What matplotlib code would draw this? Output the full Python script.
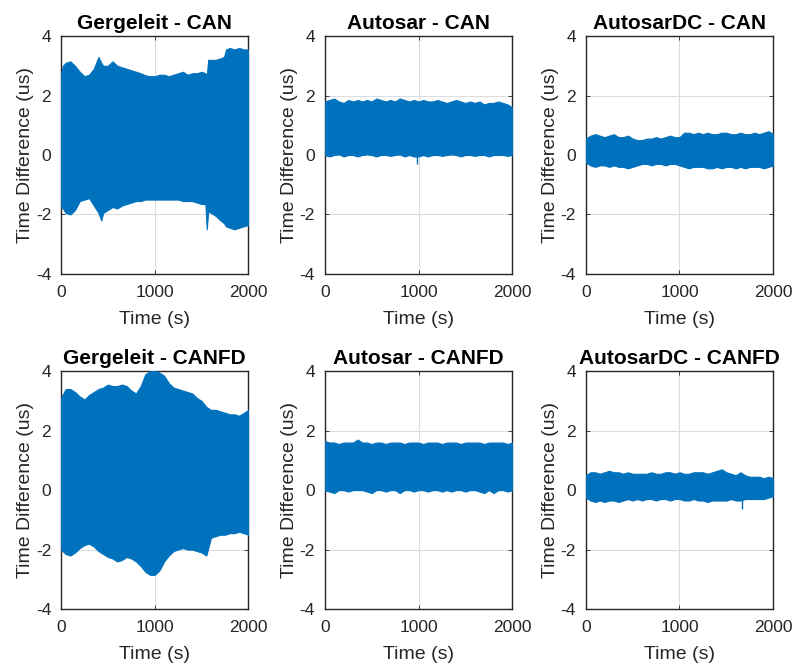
import numpy as np
import matplotlib.pyplot as plt

plt.rcParams['font.family'] = ['Liberation Sans', 'DejaVu Sans']
plt.rcParams['axes.unicode_minus'] = False

# envelope of each trace (time in s, value in us)
t50 = list(range(0, 2001, 50))

ger_can_t = [0, 20, 50, 100, 150, 200, 250, 300, 350, 400, 430, 450, 500, 550, 600, 650, 700, 750,
             800, 850, 900, 950, 1000, 1050, 1100, 1150, 1200, 1250, 1300, 1350, 1400, 1450, 1500,
             1540, 1555, 1570, 1600, 1650, 1700, 1740, 1760, 1800, 1850, 1900, 1950, 2000]
ger_can_hi = [2.7, 3.0, 3.1, 3.15, 3.0, 2.8, 2.65, 2.7, 2.9, 3.3, 3.1, 3.0, 3.0, 3.15, 3.0, 2.95, 2.9, 2.85,
              2.8, 2.75, 2.68, 2.65, 2.65, 2.7, 2.7, 2.65, 2.7, 2.75, 2.8, 2.7, 2.75, 2.75, 2.8,
              2.75, 2.65, 3.2, 3.2, 3.2, 3.25, 3.3, 3.55, 3.6, 3.55, 3.6, 3.55, 3.55]
ger_can_lo = [-1.7, -1.8, -1.95, -2.0, -1.85, -1.55, -1.5, -1.45, -1.7, -1.95, -2.2, -1.95, -1.85, -1.75, -1.8, -1.7, -1.65, -1.6,
              -1.55, -1.55, -1.5, -1.5, -1.5, -1.5, -1.5, -1.5, -1.5, -1.5, -1.55, -1.55, -1.55, -1.6, -1.65,
              -1.65, -2.5, -1.9, -1.95, -2.05, -2.2, -2.3, -2.4, -2.45, -2.5, -2.45, -2.4, -2.35]

ger_fd_hi = [3.1, 3.4, 3.4, 3.3, 3.15, 3.05, 3.2, 3.3, 3.4, 3.45, 3.55, 3.5, 3.5, 3.55, 3.5, 3.35, 3.25, 3.5, 3.9, 4.0, 4.05,
             3.95, 3.85, 3.6, 3.45, 3.4, 3.35, 3.3, 3.25, 3.1, 3.0, 2.8, 2.7, 2.7, 2.65, 2.6, 2.55, 2.55, 2.5, 2.6, 2.7]
ger_fd_lo = [-2.0, -2.15, -2.2, -2.1, -1.95, -1.85, -1.8, -1.9, -2.05, -2.15, -2.25, -2.3, -2.4, -2.35, -2.25, -2.3, -2.4, -2.55, -2.75, -2.85, -2.85,
             -2.7, -2.4, -2.2, -2.05, -2.0, -1.95, -2.0, -2.0, -2.05, -2.1, -2.2, -1.6, -1.55, -1.5, -1.5, -1.45, -1.45, -1.4, -1.45, -1.5]

aut_can_hi = [1.8, 1.85, 1.9, 1.8, 1.75, 1.85, 1.8, 1.85, 1.8, 1.85, 1.8, 1.9, 1.85, 1.8, 1.85, 1.8, 1.9, 1.85, 1.8, 1.85, 1.8,
              1.85, 1.8, 1.8, 1.85, 1.8, 1.75, 1.8, 1.85, 1.8, 1.75, 1.8, 1.75, 1.8, 1.7, 1.75, 1.75, 1.8, 1.75, 1.7, 1.6]
aut_can_lo = [0.0, -0.05, 0.0, 0.02, -0.05, 0.0, 0.0, -0.05, 0.0, 0.02, 0.0, -0.05, 0.0, 0.0, -0.03, 0.0, 0.02, -0.05, 0.0, -0.05, -0.05,
              0.0, -0.05, 0.0, 0.0, -0.03, 0.0, 0.02, 0.0, -0.05, 0.0, 0.0, -0.03, 0.0, 0.0, -0.05, 0.0, 0.0, 0.0, -0.03, 0.0]
aut_can_spike = ([985], [-0.3])

dc_can_hi = [0.55, 0.65, 0.7, 0.65, 0.6, 0.65, 0.7, 0.6, 0.6, 0.65, 0.55, 0.5, 0.5, 0.55, 0.55, 0.6, 0.55, 0.6, 0.65, 0.6, 0.6,
             0.75, 0.75, 0.7, 0.75, 0.7, 0.75, 0.7, 0.7, 0.75, 0.75, 0.7, 0.7, 0.75, 0.7, 0.7, 0.75, 0.7, 0.75, 0.8, 0.7]
dc_can_lo = [-0.25, -0.35, -0.4, -0.35, -0.35, -0.4, -0.35, -0.4, -0.4, -0.45, -0.4, -0.35, -0.3, -0.3, -0.35, -0.3, -0.3, -0.35, -0.3, -0.3, -0.35,
             -0.4, -0.45, -0.4, -0.4, -0.4, -0.45, -0.45, -0.4, -0.45, -0.4, -0.4, -0.45, -0.4, -0.45, -0.4, -0.4, -0.4, -0.45, -0.4, -0.35]

aut_fd_hi = [1.65, 1.6, 1.6, 1.55, 1.6, 1.6, 1.6, 1.7, 1.6, 1.6, 1.55, 1.6, 1.6, 1.55, 1.6, 1.6, 1.6, 1.55, 1.6, 1.6, 1.6,
             1.55, 1.6, 1.6, 1.6, 1.55, 1.6, 1.6, 1.6, 1.55, 1.6, 1.6, 1.6, 1.6, 1.55, 1.6, 1.6, 1.6, 1.6, 1.55, 1.6]
aut_fd_lo = [0.0, -0.05, -0.1, 0.0, 0.0, -0.05, 0.0, 0.0, 0.0, -0.05, -0.1, 0.0, 0.0, -0.05, 0.0, 0.0, -0.1, 0.0, 0.0, -0.05, 0.0,
             0.0, -0.05, 0.0, 0.0, -0.05, 0.0, -0.05, 0.0, 0.0, -0.05, 0.0, 0.0, -0.05, -0.1, 0.0, -0.1, 0.0, 0.0, -0.05, 0.0]

dc_fd_hi = [0.5, 0.6, 0.6, 0.55, 0.6, 0.65, 0.6, 0.6, 0.55, 0.6, 0.55, 0.55, 0.55, 0.55, 0.6, 0.55, 0.55, 0.6, 0.6, 0.55, 0.6,
            0.55, 0.55, 0.6, 0.6, 0.6, 0.55, 0.6, 0.65, 0.7, 0.6, 0.55, 0.5, 0.6, 0.5, 0.45, 0.45, 0.45, 0.4, 0.45, 0.4]
dc_fd_lo = [-0.25, -0.35, -0.4, -0.35, -0.4, -0.35, -0.35, -0.4, -0.35, -0.3, -0.35, -0.3, -0.35, -0.3, -0.3, -0.35, -0.3, -0.3, -0.35, -0.3, -0.3,
            -0.35, -0.35, -0.3, -0.35, -0.35, -0.4, -0.35, -0.35, -0.35, -0.35, -0.3, -0.35, -0.35, -0.3, -0.3, -0.3, -0.3, -0.3, -0.25, -0.2]
dc_fd_spike = ([1665], [-0.65])

titles = ['Gergeleit - CAN', 'Autosar - CAN', 'AutosarDC - CAN',
          'Gergeleit - CANFD', 'Autosar - CANFD', 'AutosarDC - CANFD']
panels = [(ger_can_t, ger_can_hi, ger_can_lo, None),
          (t50, aut_can_hi, aut_can_lo, aut_can_spike),
          (t50, dc_can_hi, dc_can_lo, None),
          (t50, ger_fd_hi, ger_fd_lo, None),
          (t50, aut_fd_hi, aut_fd_lo, None),
          (t50, dc_fd_hi, dc_fd_lo, dc_fd_spike)]

blue = '#0072BD'
dark = '#262626'

fig = plt.figure(figsize=(7.98, 6.68), dpi=100)
lefts = [0.0764, 0.407, 0.734]
bottoms = [0.590, 0.0883]
w, h = 0.235, 0.356

for i, (t, hi, lo, spike) in enumerate(panels):
    ax = fig.add_axes([lefts[i % 3], bottoms[i // 3], w, h])
    ax.fill_between(t, lo, hi, color=blue, edgecolor=blue, linewidth=0.8, zorder=3)
    if spike is not None:
        ax.vlines(spike[0], spike[1], 0.2, color=blue, linewidth=1.0, zorder=3)
    ax.set_xlim(0, 2000)
    ax.set_ylim(-4, 4)
    ax.set_xticks([0, 1000, 2000])
    ax.set_yticks([-4, -2, 0, 2, 4])
    ax.grid(True, color='#dcdcdc', linewidth=0.8, zorder=0)
    ax.set_axisbelow(True)
    ax.tick_params(direction='in', length=3, width=0.6, colors=dark, labelsize=12.5,
                   top=True, right=True, pad=8)
    ax.tick_params(axis='y', pad=7)
    for s in ax.spines.values():
        s.set_color(dark)
        s.set_linewidth(1.0)
    ax.set_title(titles[i], fontsize=15, fontweight='bold', color='black', pad=5)
    ax.set_xlabel('Time (s)', fontsize=14, color=dark, labelpad=8)
    ax.set_ylabel('Time Difference (us)', fontsize=14, color=dark, labelpad=1)

fig.savefig('out.png', dpi=100)
